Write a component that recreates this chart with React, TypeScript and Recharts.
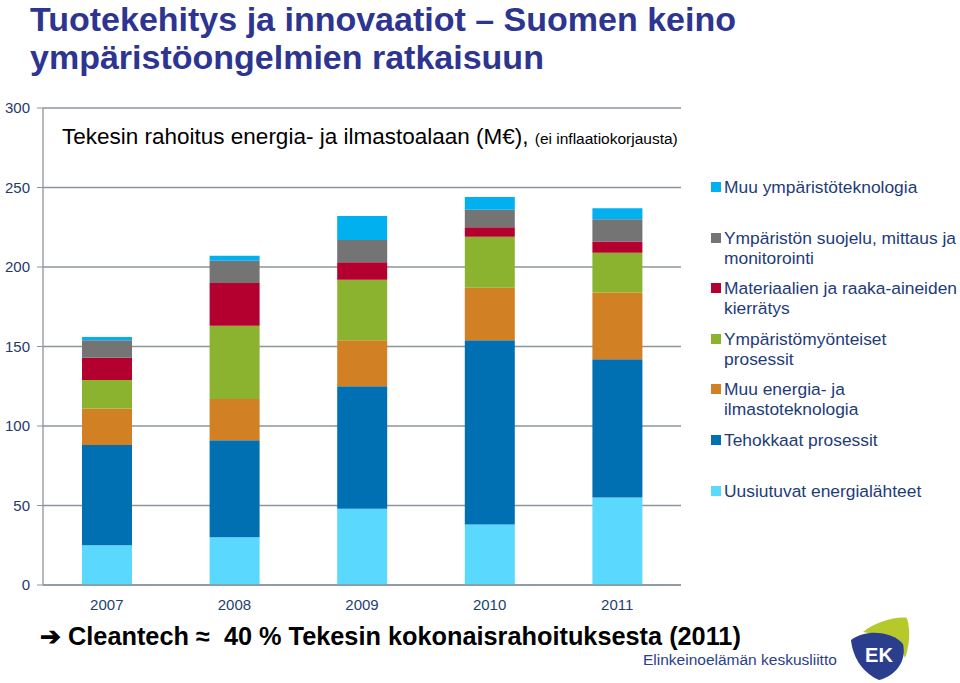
import { BarChart, Bar, XAxis, YAxis, CartesianGrid } from 'recharts';

const years = ['2007', '2008', '2009', '2010', '2011'];
const uusiutuvat = [25, 30, 48, 38, 55];
const tehokkaat = [63, 61, 77, 116, 87];
const muuEnergia = [23, 26, 29, 33, 42];
const ymparistomyonteiset = [18, 46, 38, 32, 25];
const materiaalit = [14, 27, 11, 6, 7];
const suojelu = [11, 14, 14, 11, 14];
const muuYmparisto = [2, 3, 15, 8, 7];

const yTicks = [0, 50, 100, 150, 200, 250, 300];
const boundaryTicks = [0, 1, 2, 3, 4, 5];

// bottom-to-top stacking order
const series = [
    { key: 'uusiutuvat', label: 'Uusiutuvat energialähteet', color: '#5AD8FE', values: uusiutuvat },
    { key: 'tehokkaat', label: 'Tehokkaat prosessit', color: '#0070B3', values: tehokkaat },
    { key: 'muuEnergia', label: 'Muu energia- ja\nilmastoteknologia', color: '#D18024', values: muuEnergia },
    { key: 'ymparistomyonteiset', label: 'Ympäristömyönteiset\nprosessit', color: '#8CB32F', values: ymparistomyonteiset },
    { key: 'materiaalit', label: 'Materiaalien ja raaka-aineiden\nkierrätys', color: '#B4002E', values: materiaalit },
    { key: 'suojelu', label: 'Ympäristön suojelu, mittaus ja\nmonitorointi', color: '#747474', values: suojelu },
    { key: 'muuYmparisto', label: 'Muu ympäristöteknologia', color: '#00B0EF', values: muuYmparisto },
];

const data = years.map((year, i) => {
    const row: Record<string, any> = { year };
    series.forEach(s => { row[s.key] = s.values[i]; });
    return row;
});

const navy = '#1F3A6E';
const axisGray = '#8C949E';

function LegendBox() {
    const items = [...series].reverse();
    return (
        <div style={{ position: 'absolute', left: 711, top: 177, width: 249, fontSize: 17.4, color: '#1E3C78' }}>
            {items.map(s => (
                <div key={s.key} style={{ position: 'relative', height: 50.6, paddingLeft: 13 }}>
                    <span style={{ position: 'absolute', left: 0, top: 5, width: 10, height: 10, background: s.color }} />
                    <div style={{ whiteSpace: 'pre-line', lineHeight: '20px' }}>{s.label}</div>
                </div>
            ))}
        </div>
    );
}

function EkLogo() {
    return (
        <svg width={70} height={70} style={{ position: 'absolute', left: 845, top: 614 }}>
            <path d="M 18 18 C 30 8, 52 2, 62 4 C 66 18, 64 34, 60 44 C 56 30, 40 22, 18 18 Z" fill="#B6C92B" />
            <path d="M 6 26 C 22 14, 48 18, 58 30 C 62 48, 50 62, 34 66 C 20 60, 8 46, 6 26 Z" fill="#2B3E8E" />
            <text x={34} y={48} textAnchor="middle" fill="#fff" fontFamily="Liberation Sans, Arial, sans-serif" fontWeight="bold" fontSize={20}>EK</text>
        </svg>
    );
}

const titleStyle = { position: 'absolute' as const, left: 30, fontSize: 34, fontWeight: 'bold' as const, color: '#2D3590', lineHeight: '38px', whiteSpace: 'nowrap' as const };

export default function App() {
    return (
        <div style={{ position: 'absolute', left: 0, top: 0, width: 960, height: 683, background: '#fff', fontFamily: 'Liberation Sans, Arial, sans-serif' }}>
            <div style={{ ...titleStyle, top: 0 }}>Tuotekehitys ja innovaatiot – Suomen keino</div>
            <div style={{ ...titleStyle, top: 38 }}>ympäristöongelmien ratkaisuun</div>
            <BarChart
                width={960}
                height={683}
                data={data}
                margin={{ top: 108, right: 279, bottom: 68, left: 0 }}
                style={{ position: 'absolute', left: 0, top: 0 }}
            >
                <CartesianGrid vertical={false} stroke={axisGray} strokeWidth={1.3} />
                <XAxis
                    xAxisId="bounds"
                    type="number"
                    domain={[0, 5]}
                    ticks={boundaryTicks}
                    tick={false}
                    axisLine={false}
                    tickSize={5}
                    tickLine={{ stroke: axisGray, strokeWidth: 1.3 }}
                    height={0}
                />
                <XAxis
                    xAxisId="cat"
                    dataKey="year"
                    tickLine={false}
                    axisLine={{ stroke: axisGray, strokeWidth: 1.3 }}
                    tick={{ fill: '#1F3F70', fontSize: 15 }}
                    tickMargin={8}
                    height={30}
                />
                <YAxis
                    domain={[0, 300]}
                    ticks={yTicks}
                    width={43}
                    axisLine={{ stroke: axisGray, strokeWidth: 1.3 }}
                    tickLine={{ stroke: axisGray }}
                    tickSize={6}
                    tickMargin={7}
                    tick={{ fill: navy, fontSize: 15 }}
                />
                {series.map(s => (
                    <Bar
                        key={s.key}
                        xAxisId="cat"
                        dataKey={s.key}
                        name={s.label.replace('\n', ' ')}
                        stackId="a"
                        fill={s.color}
                        barSize={50}
                        isAnimationActive={false}
                    />
                ))}
            </BarChart>
            <LegendBox />
            <div style={{ position: 'absolute', left: 62, top: 124, fontSize: 22.5, color: '#000', whiteSpace: 'nowrap' }}>
                Tekesin rahoitus energia- ja ilmastoalaan (M€), <span style={{ fontSize: 15.5 }}>(ei inflaatiokorjausta)</span>
            </div>
            <div style={{ position: 'absolute', left: 40, top: 622, fontSize: 25.3, fontWeight: 'bold', color: '#000', whiteSpace: 'pre' }}>
                ➔ Cleantech ≈  40 % Tekesin kokonaisrahoituksesta (2011)
            </div>
            <div style={{ position: 'absolute', left: 643, top: 651, fontSize: 15.5, color: '#2B3E8E', whiteSpace: 'nowrap' }}>
                Elinkeinoelämän keskusliitto
            </div>
            <EkLogo />
        </div>
    );
}
